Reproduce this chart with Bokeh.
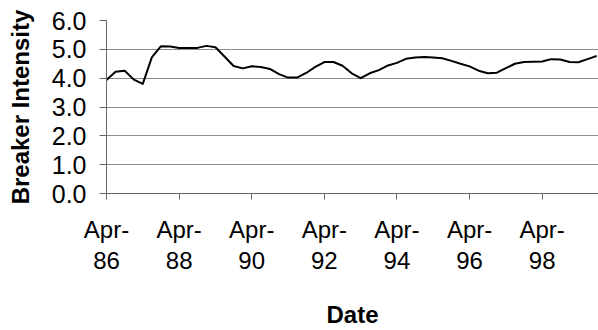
import pandas as pd
from bokeh.plotting import figure
from bokeh.models import (FixedTicker, Range1d, NumeralTickFormatter,
                          ColumnDataSource, DatetimeAxis)
from bokeh.embed import file_html
from bokeh.resources import INLINE

# Quarterly breaker intensity, Apr-86 .. Oct-99
dates = pd.date_range("1986-04-01", periods=55, freq="3MS")
intensity = [3.94, 4.22, 4.26, 3.95, 3.80, 4.72, 5.11, 5.10, 5.05, 5.05,
             5.05, 5.12, 5.07, 4.75, 4.42, 4.34, 4.41, 4.39, 4.32, 4.14,
             4.02, 4.02, 4.18, 4.39, 4.56, 4.56, 4.43, 4.17, 4.00, 4.17,
             4.28, 4.44, 4.53, 4.67, 4.72, 4.73, 4.72, 4.69, 4.60, 4.50,
             4.41, 4.26, 4.17, 4.19, 4.35, 4.50, 4.56, 4.57, 4.58, 4.66,
             4.65, 4.56, 4.55, 4.66, 4.77]

tick_dates = ["1986-04-01", "1988-04-01", "1990-04-01", "1992-04-01",
              "1994-04-01", "1996-04-01", "1998-04-01"]
tick_months = ["Apr-", "Apr-", "Apr-", "Apr-", "Apr-", "Apr-", "Apr-"]
tick_years = ["86", "88", "90", "92", "94", "96", "98"]
y_ticks = [0, 1, 2, 3, 4, 5, 6]

FONT = "Liberation Sans"
GRID = "#8c8c8c"
AXIS = "#666666"

tick_ms = [pd.Timestamp(d).value / 1e6 for d in tick_dates]

source = ColumnDataSource(dict(date=dates, value=intensity))

p = figure(width=598, height=330, x_axis_type="datetime",
           output_backend="svg", toolbar_location=None,
           x_range=Range1d(pd.Timestamp("1986-04-01"), pd.Timestamp("1999-10-20")),
           y_range=Range1d(0, 6),
           min_border_left=106, min_border_right=0,
           min_border_top=20, min_border_bottom=135)
p.outline_line_color = None
p.background_fill_color = "white"
p.border_fill_color = "white"

p.line("date", "value", source=source, line_color="black", line_width=2,
       line_join="round")

# x axis: first line of the tick labels ("Apr-")
xa = p.xaxis[0]
xa.ticker = FixedTicker(ticks=tick_ms)
xa.major_label_overrides = {t: l for t, l in zip(tick_ms, tick_months)}
xa.minor_tick_line_color = None
xa.major_tick_out = 6
xa.major_tick_in = 0
xa.axis_line_color = AXIS
xa.major_tick_line_color = AXIS
xa.major_label_text_font = FONT
xa.major_label_text_font_size = "24px"
xa.major_label_text_color = "black"
xa.major_label_standoff = 16

# second line of the tick labels (years) and the axis title
xa2 = DatetimeAxis(ticker=FixedTicker(ticks=tick_ms))
xa2.major_label_overrides = {t: l for t, l in zip(tick_ms, tick_years)}
xa2.axis_line_color = None
xa2.major_tick_line_color = None
xa2.minor_tick_line_color = None
xa2.major_tick_out = 0
xa2.major_tick_in = 0
xa2.major_label_text_font = FONT
xa2.major_label_text_font_size = "24px"
xa2.major_label_text_color = "black"
xa2.major_label_standoff = 6
xa2.axis_label = "Date"
xa2.axis_label_text_font = FONT
xa2.axis_label_text_font_size = "24px"
xa2.axis_label_text_font_style = "bold"
xa2.axis_label_text_color = "black"
xa2.axis_label_standoff = 29
p.add_layout(xa2, "below")

# y axis
ya = p.yaxis[0]
ya.ticker = FixedTicker(ticks=y_ticks)
ya.formatter = NumeralTickFormatter(format="0.0")
ya.minor_tick_line_color = None
ya.major_tick_out = 7
ya.major_tick_in = 0
ya.axis_line_color = AXIS
ya.major_tick_line_color = AXIS
ya.major_label_text_font = FONT
ya.major_label_text_font_size = "25px"
ya.major_label_text_color = "black"
ya.major_label_standoff = 13
ya.axis_label = "Breaker Intensity"
ya.axis_label_text_font = FONT
ya.axis_label_text_font_size = "24px"
ya.axis_label_text_font_style = "bold"
ya.axis_label_text_color = "black"
ya.axis_label_standoff = 15

p.xgrid.grid_line_color = None
p.ygrid.ticker = FixedTicker(ticks=y_ticks)
p.ygrid.grid_line_color = GRID
p.ygrid.grid_line_width = 1

open("out.html", "w").write(file_html(p, INLINE))
